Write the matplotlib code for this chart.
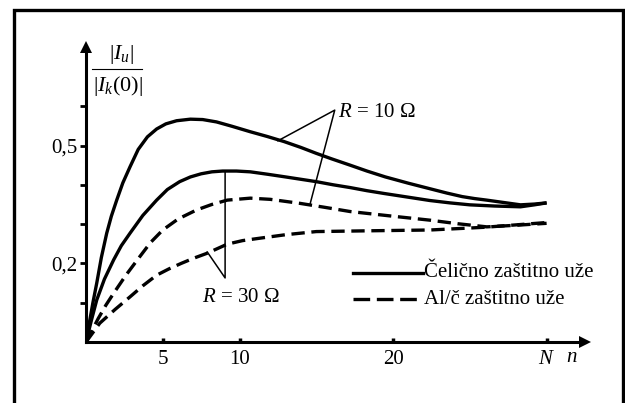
import matplotlib
matplotlib.use("Agg")
import matplotlib.pyplot as plt
from matplotlib.lines import Line2D

plt.rcParams['font.family'] = ['Liberation Serif', 'DejaVu Serif']
plt.rcParams['mathtext.fontset'] = 'custom'
plt.rcParams['mathtext.rm'] = 'Liberation Serif'
plt.rcParams['mathtext.it'] = 'Liberation Serif:italic'

# Steel ground wire (solid), R = 10 ohm
n_steel_r10 = [0, 0.2, 0.45, 0.7, 1.0, 1.35, 1.65, 2.0, 2.4, 2.87, 3.4, 4.0,
               4.6, 5.2, 5.9, 6.8, 7.6, 8.5, 9.5, 10.7, 11.8, 12.9, 14, 15,
               16, 17.2, 18.3, 19.5, 21, 22.4, 23.5, 24.5, 25.3, 26.1, 27.2,
               28.3, 29.2, 30]
v_steel_r10 = [0, 0.045, 0.1, 0.15, 0.215, 0.277, 0.32, 0.361, 0.405, 0.446,
               0.49, 0.522, 0.542, 0.555, 0.563, 0.567, 0.566, 0.56, 0.549,
               0.535, 0.523, 0.51, 0.495, 0.48, 0.466, 0.45, 0.435, 0.42,
               0.404, 0.39, 0.379, 0.37, 0.365, 0.361, 0.355, 0.349, 0.351,
               0.354]

# Steel ground wire (solid), R = 30 ohm
n_steel_r30 = [0, 0.35, 0.7, 1.2, 1.8, 2.3, 2.87, 3.7, 4.6, 5.3, 6.1, 6.8,
               7.5, 8.2, 8.9, 9.8, 10.7, 11.8, 13, 14, 15, 16.1, 17.2, 18.3,
               19.4, 20.9, 22.4, 23.7, 25, 26.6, 28.3, 29.2, 30]
v_steel_r30 = [0, 0.055, 0.107, 0.16, 0.209, 0.245, 0.277, 0.322, 0.361,
               0.388, 0.408, 0.42, 0.428, 0.433, 0.435, 0.435, 0.433, 0.427,
               0.42, 0.414, 0.408, 0.4, 0.393, 0.385, 0.378, 0.369, 0.36,
               0.354, 0.349, 0.346, 0.344, 0.349, 0.354]

# Al/steel ground wire (dashed), R = 10 ohm
n_al_r10 = [0, 0.4, 0.8, 1.3, 1.8, 2.6, 3.5, 4.2, 5.0, 6.0, 7.2, 8.2, 9.2,
            10.7, 12.0, 13.9, 15.5, 17.2, 18.6, 20, 22.4, 24.2, 26.1, 28, 30]
v_al_r10 = [0, 0.03, 0.06, 0.094, 0.124, 0.17, 0.217, 0.253, 0.285, 0.313,
            0.336, 0.35, 0.361, 0.366, 0.363, 0.353, 0.343, 0.332, 0.326,
            0.32, 0.31, 0.301, 0.293, 0.297, 0.302]

# Al/steel ground wire (dashed), R = 30 ohm
n_al_r30 = [0, 0.9, 1.9, 2.87, 3.7, 4.6, 5.4, 6.2, 7.0, 7.9, 9.2, 10.2, 11.3,
            13, 15, 18.5, 22.4, 26, 30]
v_al_r30 = [0, 0.048, 0.083, 0.115, 0.143, 0.17, 0.186, 0.2, 0.213, 0.226,
            0.249, 0.258, 0.264, 0.273, 0.281, 0.283, 0.285, 0.292, 0.304]

x_ticks = [5, 10, 20, 30]
x_tick_labels = ['5', '10', '20', '$N$']
y_ticks = [0.1, 0.2, 0.3, 0.4, 0.5, 0.6]
y_tick_labels = ['', '0,2', '', '', '0,5', '']
legend_labels = ['Čelično zaštitno uže', 'Al/č zaštitno uže']

W, H = 625, 403
fig = plt.figure(figsize=(W / 100, H / 100), dpi=100)

# outer frame (open at the bottom)
frame = Line2D([14.5 / W, 14.5 / W, 622.5 / W, 622.5 / W],
               [0, 1 - 10 / H, 1 - 10 / H, 0],
               transform=fig.transFigure, color='black', lw=2.4,
               solid_joinstyle='miter')
fig.add_artist(frame)

x0, x1 = 86, 585
y0, y1 = 342, 47.25
ax = fig.add_axes([x0 / W, 1 - y0 / H, (x1 - x0) / W, (y0 - y1) / H])
ax.set_xlim(0, 32.5)
ax.set_ylim(0, 0.75)
ax.patch.set_alpha(0)
for s in ('top', 'right'):
    ax.spines[s].set_visible(False)
for s in ('left', 'bottom'):
    ax.spines[s].set_linewidth(2.2)

# arrow heads on the axes
ax.plot([1], [0], marker='>', ms=8, color='black', transform=ax.transAxes,
        clip_on=False, mew=0)
ax.plot([0], [1], marker='^', ms=8, color='black', transform=ax.transAxes,
        clip_on=False, mew=0)

ax.set_xticks(x_ticks)
ax.set_xticklabels(x_tick_labels)
ax.set_yticks(y_ticks)
ax.set_yticklabels(y_tick_labels)
ax.tick_params(axis='x', direction='in', length=3, width=2.5, pad=6,
               labelsize=15)
ax.tick_params(axis='y', direction='out', length=4, width=2, pad=2,
               labelsize=15)
ax.annotate('$n$', xy=(31.65, 0), xytext=(0, -11), textcoords='offset points',
            ha='center', va='center', fontsize=15, annotation_clip=False)

lw = 2.4
dash = (4, 2)
ax.plot(n_steel_r10, v_steel_r10, color='black', lw=lw, solid_capstyle='butt')
ax.plot(n_steel_r30, v_steel_r30, color='black', lw=lw, solid_capstyle='butt')
ax.plot(n_al_r10, v_al_r10, color='black', lw=lw, dashes=dash)
ax.plot(n_al_r30, v_al_r30, color='black', lw=lw, dashes=dash)

# R = 10 ohm pointer
ax.plot([12.5, 16.2, 14.6], [0.512, 0.590, 0.352], color='black', lw=1.1)
ax.text(16.4, 0.585, '$R$ = 10 Ω', fontsize=15, ha='left', va='center')

# R = 30 ohm pointer
ax.plot([9.06, 9.06, 7.9], [0.433, 0.163, 0.229], color='black', lw=1.1)
ax.text(10.1, 0.113, '$R$ = 30 Ω', fontsize=15, ha='center', va='center')

# legend
ax.plot([17.4, 21.95], [0.1756, 0.1756], color='black', lw=lw)
ax.text(22.0, 0.1756, legend_labels[0], fontsize=15, ha='left', va='center')
ax.plot([17.4, 21.95], [0.109, 0.109], color='black', lw=lw, dashes=(5, 2))
ax.text(22.0, 0.109, legend_labels[1], fontsize=15, ha='left', va='center')

# y-axis label as a fraction
fig.text(121 / W, 1 - 55 / H, '|$I_u$|', fontsize=16, ha='center',
         va='center')
fig.add_artist(Line2D([92 / W, 142 / W], [1 - 69 / H, 1 - 69 / H],
                      transform=fig.transFigure, color='black', lw=0.8))
fig.text(118 / W, 1 - 86 / H, '|$I_k$(0)|', fontsize=16, ha='center',
         va='center')

fig.savefig('out.png', dpi=100)
